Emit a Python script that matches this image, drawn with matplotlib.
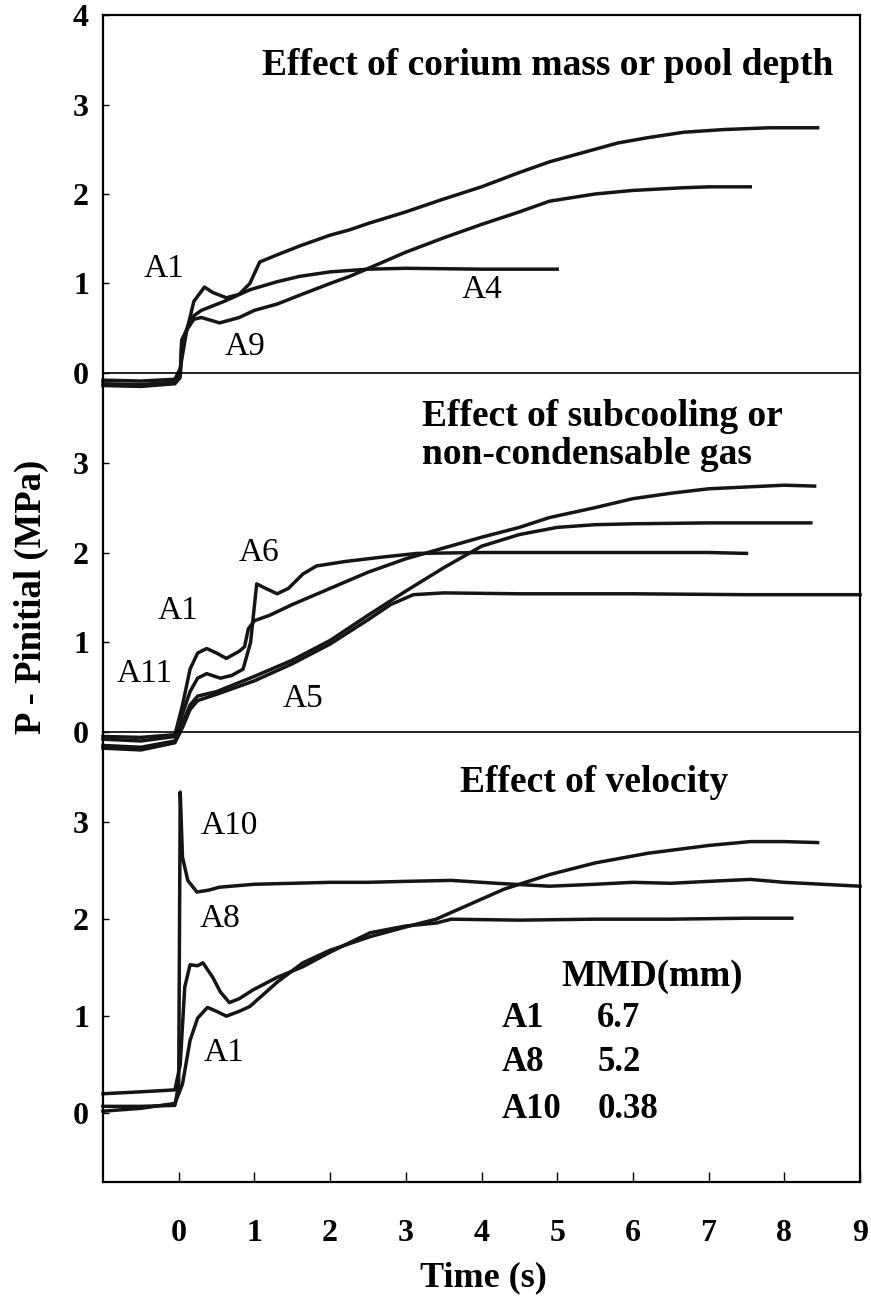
import matplotlib
matplotlib.use("Agg")
import matplotlib.pyplot as plt

plt.rcParams['font.family'] = ['Liberation Serif', 'DejaVu Serif']

# ---------------- data ----------------
# panel 1: effect of corium mass or pool depth
p1_a1_t = [-1, -0.5, -0.05, 0.02, 0.1, 0.2, 0.34, 0.45, 0.63, 0.8, 0.94, 1.07, 1.3, 1.6, 2.0, 2.26, 2.5, 3.0, 3.45,
           4.0, 4.5, 4.9, 5.5, 5.8, 6.2, 6.67, 7.2, 7.8, 8.44]
p1_a1_p = [-0.08, -0.09, -0.07, 0.05, 0.45, 0.8, 0.96, 0.9, 0.84, 0.88, 1.0, 1.24, 1.32, 1.42, 1.54, 1.6, 1.67, 1.8, 1.93,
           2.08, 2.24, 2.36, 2.5, 2.57, 2.63, 2.69, 2.72, 2.74, 2.74]
p1_a9_t = [-1, -0.5, -0.05, 0.02, 0.04, 0.12, 0.2, 0.3, 0.54, 0.8, 1.0, 1.3, 1.6, 2.0, 2.26, 2.7, 3.0, 3.5, 4.0, 4.5,
           4.9, 5.5, 6.0, 6.67, 7.0, 7.55]
p1_a9_p = [-0.14, -0.15, -0.12, -0.05, 0.37, 0.5, 0.6, 0.62, 0.56, 0.62, 0.7, 0.77, 0.87, 1.0, 1.08, 1.24, 1.35, 1.51, 1.66,
           1.8, 1.92, 2.0, 2.04, 2.07, 2.08, 2.08]
p1_a4_t = [-1, -0.5, -0.05, 0.02, 0.04, 0.12, 0.2, 0.3, 0.6, 0.94, 1.3, 1.6, 2.0, 2.5, 3.0, 4.0, 5.0]
p1_a4_p = [-0.12, -0.13, -0.1, -0.03, 0.35, 0.52, 0.64, 0.7, 0.8, 0.93, 1.02, 1.08, 1.13, 1.16, 1.17, 1.16, 1.16]

# panel 2: effect of subcooling or non-condensable gas
p2_a1_t = [-1, -0.5, -0.05, 0.05, 0.15, 0.25, 0.37, 0.5, 0.63, 0.8, 0.87, 0.92, 1.0, 1.2, 1.5, 2.0, 2.5, 3.0, 3.5,
           4.0, 4.5, 4.9, 5.5, 6.0, 6.5, 7.0, 7.5, 8.0, 8.4]
p2_a1_p = [-0.05, -0.06, -0.03, 0.3, 0.7, 0.88, 0.93, 0.88, 0.82, 0.9, 0.95, 1.15, 1.24, 1.3, 1.42, 1.6, 1.78, 1.93, 2.05,
           2.17, 2.28, 2.39, 2.5, 2.6, 2.66, 2.71, 2.73, 2.75, 2.74]
p2_a6_t = [-1, -0.5, -0.05, 0.05, 0.15, 0.25, 0.37, 0.55, 0.7, 0.85, 0.95, 1.03, 1.15, 1.3, 1.45, 1.64, 1.82, 2.2, 2.7,
           3.15, 4.0, 5.0, 6.0, 7.0, 7.5]
p2_a6_p = [-0.08, -0.1, -0.05, 0.2, 0.45, 0.6, 0.65, 0.6, 0.63, 0.7, 1.0, 1.65, 1.6, 1.54, 1.6, 1.76, 1.85, 1.9, 1.95,
           1.99, 2.0, 2.0, 2.0, 2.0, 1.99]
p2_a11_t = [-1, -0.5, -0.05, 0.05, 0.15, 0.25, 0.5, 1.0, 1.5, 2.0, 2.5, 3.0, 3.5, 4.0, 4.5, 5.0, 5.5, 6.0, 7.0, 8.35]
p2_a11_p = [-0.15, -0.17, -0.1, 0.1, 0.3, 0.4, 0.45, 0.62, 0.8, 1.02, 1.3, 1.57, 1.83, 2.07, 2.2, 2.28, 2.31, 2.32, 2.33, 2.33]
p2_a5_t = [-1, -0.5, -0.05, 0.05, 0.15, 0.25, 0.5, 1.0, 1.5, 2.0, 2.5, 2.8, 3.1, 3.5, 4.5, 6.0, 7.5, 9.0]
p2_a5_p = [-0.18, -0.2, -0.12, 0.05, 0.25, 0.35, 0.42, 0.57, 0.76, 0.98, 1.25, 1.42, 1.53, 1.55, 1.54, 1.54, 1.53, 1.53]

# panel 3: effect of velocity
p3_a10_t = [-1, -0.5, -0.05, 0.0, 0.02, 0.05, 0.12, 0.24, 0.4, 0.54, 1.0, 1.5, 2.0, 2.5, 3.0, 3.6, 4.2, 4.9, 5.5,
            6.0, 6.5, 7.0, 7.55, 8.0, 8.5, 9.0]
p3_a10_p = [0.07, 0.07, 0.08, 0.3, 3.31, 2.64, 2.4, 2.28, 2.3, 2.33, 2.36, 2.37, 2.38, 2.38, 2.39, 2.4, 2.37, 2.34, 2.36,
            2.38, 2.37, 2.39, 2.41, 2.38, 2.36, 2.34]
p3_a8_t = [-1, -0.5, -0.05, 0.02, 0.08, 0.15, 0.25, 0.32, 0.45, 0.55, 0.67, 0.8, 0.98, 1.3, 1.64, 2.0, 2.53, 3.0, 3.4,
           3.6, 4.5, 5.5, 6.5, 7.5, 8.1]
p3_a8_p = [0.2, 0.22, 0.24, 0.5, 1.3, 1.53, 1.52, 1.55, 1.4, 1.25, 1.14, 1.18, 1.27, 1.4, 1.51, 1.66, 1.86, 1.93, 1.96,
           2.0, 1.99, 2.0, 2.0, 2.01, 2.01]
p3_a1_t = [-1, -0.5, -0.05, 0.05, 0.15, 0.25, 0.38, 0.5, 0.63, 0.8, 0.94, 1.3, 1.64, 2.0, 2.53, 3.0, 3.4, 4.3, 4.9,
           5.5, 6.2, 7.0, 7.55, 8.0, 8.44]
p3_a1_p = [0.02, 0.05, 0.1, 0.3, 0.75, 0.98, 1.09, 1.05, 1.0, 1.05, 1.1, 1.35, 1.55, 1.68, 1.82, 1.92, 2.0, 2.31, 2.46,
           2.58, 2.68, 2.76, 2.8, 2.8, 2.79]

mmd_runs = ["A1", "A8", "A10"]
mmd_values = ["6.7", "5.2", "0.38"]

x_ticks = list(range(0, 10))

# ---------------- figure ----------------
fig = plt.figure(figsize=(8.71, 13), dpi=100)
left, width = 103 / 871, 757 / 871
ax1 = fig.add_axes([left, 0.71308, width, 0.27538])
ax2 = fig.add_axes([left, 0.43692, width, 0.27615])
ax3 = fig.add_axes([left, 0.09077, width, 0.34615])

lw = 2.5
col = '#151515'

for t, p in [(p1_a1_t, p1_a1_p), (p1_a9_t, p1_a9_p), (p1_a4_t, p1_a4_p)]:
    ax1.plot(t, p, color=col, lw=lw, clip_on=False)
for t, p in [(p2_a1_t, p2_a1_p), (p2_a6_t, p2_a6_p), (p2_a11_t, p2_a11_p), (p2_a5_t, p2_a5_p)]:
    ax2.plot(t, p, color=col, lw=lw, clip_on=False)
for t, p in [(p3_a10_t, p3_a10_p), (p3_a8_t, p3_a8_p), (p3_a1_t, p3_a1_p)]:
    ax3.plot(t, p, color=col, lw=lw, clip_on=False)

ax1.set_ylim(0, 4)
ax2.set_ylim(0, 4)
ax3.set_ylim(-0.71, 3.93)
ax1.set_yticks([0, 1, 2, 3, 4])
ax2.set_yticks([0, 1, 2, 3])
ax3.set_yticks([0, 1, 2, 3])

for ax in (ax1, ax2, ax3):
    ax.set_xlim(-1, 9)
    ax.set_facecolor('none')
    for s in ax.spines.values():
        s.set_linewidth(1.6)
        s.set_color('black')
    ax.tick_params(axis='y', direction='in', length=4, width=1, pad=10)
    for lab in ax.get_yticklabels():
        lab.set_fontsize(23)
        lab.set_fontweight('bold')

ax2.spines['top'].set_visible(False)
ax3.spines['top'].set_visible(False)
ax2.spines['bottom'].set_linewidth(1.2)
ax1.spines['bottom'].set_linewidth(1.2)
for ax in (ax1, ax2):
    ax.set_xticks([])

ax3.set_xticks(x_ticks)
ax3.tick_params(axis='x', direction='in', length=7, width=1, pad=27)
for lab in ax3.get_xticklabels():
    lab.set_fontsize(23)
    lab.set_fontweight('bold')

# panel titles
title_kw = dict(fontsize=27, fontweight='bold', ha='left', va='center')
ax1.text(1.1, 3.44, "Effect of corium mass or pool depth", **title_kw)
ax2.text(3.21, 3.51, "Effect of subcooling or", **title_kw)
ax2.text(3.21, 3.09, "non-condensable gas", **title_kw)
ax3.text(3.72, 3.41, "Effect of velocity", **title_kw)

# curve labels
lab_kw = dict(fontsize=24, ha='center', va='center')
ax1.text(-0.2, 1.16, "A1", **lab_kw)
ax1.text(0.87, 0.29, "A9", **lab_kw)
ax1.text(4.0, 0.93, "A4", **lab_kw)
ax2.text(1.06, 2.0, "A6", **lab_kw)
ax2.text(-0.01, 1.35, "A1", **lab_kw)
ax2.text(-0.45, 0.65, "A11", **lab_kw)
ax2.text(1.64, 0.37, "A5", **lab_kw)
ax3.text(0.67, 2.96, "A10", **lab_kw)
ax3.text(0.54, 2.0, "A8", **lab_kw)
ax3.text(0.6, 0.62, "A1", **lab_kw)

# MMD table
ax3.text(6.26, 1.41, "MMD(mm)", fontsize=26.5, fontweight='bold', ha='center', va='center')
row_y = [0.98, 0.52, 0.04]
for run, val, y in zip(mmd_runs, mmd_values, row_y):
    ax3.text(4.27, y, run, fontsize=25, fontweight='bold', ha='left', va='center')
    ax3.text(5.53, y, val, fontsize=25, fontweight='bold', ha='left', va='center')

fig.text(31 / 871, 1 - 597 / 1300, "P - Pinitial (MPa)", rotation=90, fontsize=26.5,
         fontweight='bold', ha='center', va='center')
fig.text(483 / 871, 1 - 1278 / 1300, "Time (s)", fontsize=26, fontweight='bold',
         ha='center', va='center')

fig.savefig("out.png", dpi=100)
